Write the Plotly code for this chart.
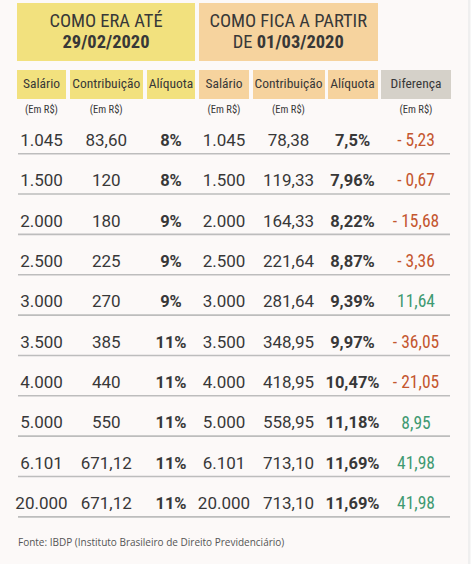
import plotly.graph_objects as go

# ---------------- data ----------------
salario_antes = ["1.045", "1.500", "2.000", "2.500", "3.000", "3.500", "4.000", "5.000", "6.101", "20.000"]
contrib_antes = ["83,60", "120", "180", "225", "270", "385", "440", "550", "671,12", "671,12"]
aliq_antes = ["8%", "8%", "9%", "9%", "9%", "11%", "11%", "11%", "11%", "11%"]
salario_depois = ["1.045", "1.500", "2.000", "2.500", "3.000", "3.500", "4.000", "5.000", "6.101", "20.000"]
contrib_depois = ["78,38", "119,33", "164,33", "221,64", "281,64", "348,95", "418,95", "558,95", "713,10", "713,10"]
aliq_depois = ["7,5%", "7,96%", "8,22%", "8,87%", "9,39%", "9,97%", "10,47%", "11,18%", "11,69%", "11,69%"]
diferenca = [-5.23, -0.67, -15.68, -3.36, 11.64, -36.05, -21.05, 8.95, 41.98, 41.98]

col_headers = ["Salário", "Contribuição", "Alíquota", "Salário", "Contribuição", "Alíquota", "Diferença"]
col_units = ["(Em R$)", "(Em R$)", "", "(Em R$)", "(Em R$)", "", "(Em R$)"]
group_line1 = ["COMO ERA ATÉ", "COMO FICA A PARTIR"]
group_line2 = ["<b>29/02/2020</b>", "DE <b>01/03/2020</b>"]
source = "Fonte: IBDP (Instituto Brasileiro de Direito Previdenciário)"

# ---------------- layout constants ----------------
W, H = 474, 564
col_edges = [(17, 66), (69.5, 143), (147, 195), (199, 249), (252.5, 324.5), (327.5, 377.5), (381, 451)]
col_cx = [(a + b) / 2 for a, b in col_edges]
col_w = [b - a for a, b in col_edges]
group_edges = [(17, 195), (199, 377.5)]
group_cx = [(a + b) / 2 for a, b in group_edges]
YELLOW = "#f2e17e"
ORANGE = "#f6d39e"
GREY = "#d5d1c9"
col_colors = [YELLOW, YELLOW, YELLOW, ORANGE, ORANGE, ORANGE, GREY]
TXT = "#383838"
RED = "#c4562f"
GREEN = "#3f9a72"
COND = "Roboto Condensed, Roboto, sans-serif"
DATA_FONT = "Roboto, sans-serif"

row0, row_step = 141.7, 40.35
n = len(salario_antes)
row_y = [row0 + i * row_step for i in range(n)]

fig = go.Figure()

# group header boxes
fig.add_trace(go.Bar(
    x=group_cx, width=[b - a for a, b in group_edges],
    base=[3, 3], y=[58, 58],
    marker=dict(color=[YELLOW, ORANGE], line=dict(width=0)),
    hoverinfo="skip", showlegend=False))
# column header boxes
fig.add_trace(go.Bar(
    x=col_cx, width=col_w, base=[70] * 7, y=[29] * 7,
    marker=dict(color=col_colors, line=dict(width=0)),
    hoverinfo="skip", showlegend=False))

# group titles
fig.add_trace(go.Scatter(
    x=group_cx, y=[22, 22], mode="text", text=group_line1, textposition="middle center",
    textfont=dict(family=COND, size=18.5, color=TXT), hoverinfo="skip", showlegend=False))
fig.add_trace(go.Scatter(
    x=group_cx, y=[43, 43], mode="text", text=group_line2, textposition="middle center",
    textfont=dict(family=COND, size=18.5, color=TXT), hoverinfo="skip", showlegend=False))
# column headers
fig.add_trace(go.Scatter(
    x=col_cx, y=[84.5] * 7, mode="text", text=col_headers, textposition="middle center",
    textfont=dict(family=COND, size=13.5, color=TXT), hoverinfo="skip", showlegend=False))
fig.add_trace(go.Scatter(
    x=col_cx, y=[110] * 7, mode="text", text=col_units, textposition="middle center",
    textfont=dict(family=COND, size=10.5, color=TXT), hoverinfo="skip", showlegend=False))

# separator lines
lx, ly = [], []
for y in row_y:
    lx += [18, 450, None]
    ly += [y + 12, y + 12, None]
fig.add_trace(go.Scatter(x=lx, y=ly, mode="lines", line=dict(color="#bdbdbd", width=1.6),
                         hoverinfo="skip", showlegend=False))

def fmt_dif(v):
    s = f"{abs(v):.2f}".replace(".", ",")
    return ("- " + s) if v < 0 else s

columns = [
    (salario_antes, 17),
    (contrib_antes, 17),
    ([f"<b>{a}</b>" for a in aliq_antes], 16.5),
    (salario_depois, 17),
    (contrib_depois, 17),
    ([f"<b>{a}</b>" for a in aliq_depois], 16.5),
]
for ci, (vals, sz) in enumerate(columns):
    fig.add_trace(go.Scatter(
        x=[col_cx[ci]] * n, y=row_y, mode="text", text=vals, textposition="middle center",
        textfont=dict(family=DATA_FONT, size=sz, color=TXT),
        hoverinfo="skip", showlegend=False))

fig.add_trace(go.Scatter(
    x=[col_cx[6]] * n, y=row_y, mode="text", text=[fmt_dif(v) for v in diferenca],
    textposition="middle center",
    textfont=dict(family=COND, size=17.5, color=[RED if v < 0 else GREEN for v in diferenca]),
    hoverinfo="skip", showlegend=False))

fig.add_trace(go.Scatter(
    x=[18], y=[543.5], mode="text", text=[source], textposition="middle right",
    textfont=dict(family="Open Sans, sans-serif", size=10, color="#555555"),
    hoverinfo="skip", showlegend=False))

fig.update_layout(
    width=W, height=H, margin=dict(l=0, r=0, t=0, b=0),
    paper_bgcolor="#ffffff", plot_bgcolor="#ffffff",
    barmode="overlay", bargap=0,
    xaxis=dict(range=[0, W], visible=False, fixedrange=True),
    yaxis=dict(range=[H, 0], visible=False, fixedrange=True),
    shapes=[
        dict(type="rect", xref="x", yref="y", x0=0, x1=468, y0=0, y1=H,
             fillcolor="#fcf9f8", line=dict(width=0), layer="below"),
        dict(type="rect", xref="x", yref="y", x0=468, x1=470.5, y0=0, y1=H,
             fillcolor="#efefef", line=dict(width=0), layer="below"),
    ],
)
fig.write_html("out.html", config={"displayModeBar": False},
               post_script="document.body.style.margin='0';")
